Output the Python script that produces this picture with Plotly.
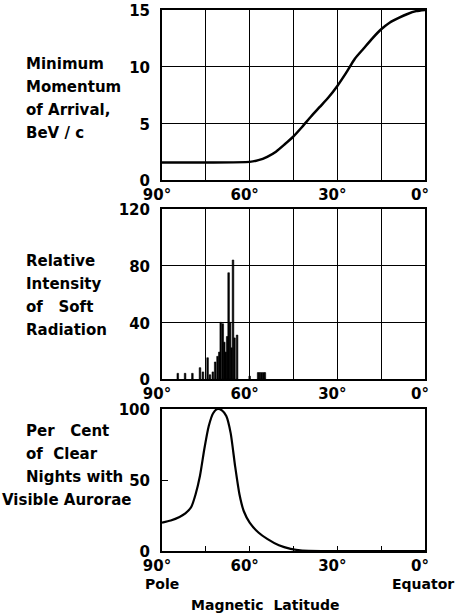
import plotly.graph_objects as go

W, H = 457, 615

# ---- data ----
lat_tick_vals = [90, 75, 60, 45, 30, 15, 0]
lat_tick_text = ["90°", "", "60°", "", "30°", "", "0°"]

lat_mom = [90, 75, 60, 57, 54, 51, 48, 45, 42, 39, 36, 33, 30, 27, 24, 21, 18, 15, 12, 9, 6, 3, 0]
momentum = [1.55, 1.55, 1.6, 1.75, 2.05, 2.5, 3.15, 3.85, 4.7, 5.6, 6.45, 7.3, 8.3, 9.45, 10.7, 11.6, 12.5, 13.3, 13.9, 14.3, 14.65, 14.9, 15.0]
mom_ticks = [0, 5, 10, 15]

lat_soft = [84.6, 82.1, 79.6, 77.0, 76.0, 74.4, 73.6, 72.6, 71.8, 71.0, 70.4, 69.9, 69.2, 68.7, 68.2,
            67.7, 67.2, 66.7, 66.2, 65.7, 65.2, 64.3, 60.0, 57.1, 56.5, 55.9, 55.3, 54.8]
soft = [4, 4, 4, 8, 5, 15, 3, 5, 12, 16, 19, 40, 39, 26, 19,
        30, 75, 40, 22, 84, 29, 31, 2, 4.5, 4.5, 4.5, 4.5, 4.5]
soft_ticks = [0, 40, 80, 120]

lat_aur = [90, 87, 84, 82, 80, 78.5, 77, 75.5, 74, 72.5, 71, 69.5, 68, 66.5, 65, 63.5, 62, 60, 57, 54, 50, 46, 42, 35, 20, 0]
aurorae = [20, 21.5, 24, 26.5, 31, 40, 53, 72, 88, 97, 100, 99, 95, 83, 60, 40, 28, 20, 13, 8.5, 4, 1.5, 0.3, 0, 0, 0]
aur_ticks = [0, 50, 100]

FONT = "DejaVu Sans"

fig = go.Figure()
fig.add_trace(go.Scatter(x=lat_mom, y=momentum, mode="lines",
                         line=dict(color="black", width=2.5, shape="spline", smoothing=0.6),
                         xaxis="x", yaxis="y", showlegend=False))
fig.add_trace(go.Bar(x=lat_soft, y=soft, width=0.55,
                     marker=dict(color="black", line=dict(width=0.6, color="black")),
                     xaxis="x2", yaxis="y2", showlegend=False))
fig.add_trace(go.Scatter(x=lat_aur, y=aurorae, mode="lines",
                         line=dict(color="black", width=2.2, shape="spline", smoothing=0.6),
                         xaxis="x3", yaxis="y3", showlegend=False))

def px_x(p):
    return p / W

def px_y(p):
    return 1 - p / H

xdom = [px_x(162), px_x(425)]
tickfont = dict(family=FONT, size=15, color="black", weight="bold")

def xax(dom_anchor, grid=True):
    return dict(domain=xdom, anchor=dom_anchor, range=[90, 0], tickmode="array",
                tickvals=lat_tick_vals, ticktext=lat_tick_text,
                showgrid=grid, gridcolor="black", gridwidth=1,
                showline=True, mirror=True, linecolor="black", linewidth=2,
                ticks="inside" if not grid else "", ticklen=5, tickcolor="black",
                tickfont=tickfont, zeroline=False, fixedrange=True, automargin=False,
                ticklabelshift=5, ticklabelstandoff=0)

def yax(dom, anchor, rng, ticks, grid=True):
    return dict(domain=dom, anchor=anchor, range=rng, tickmode="array", tickvals=ticks,
                showgrid=grid, gridcolor="black", gridwidth=1,
                showline=True, mirror=True, linecolor="black", linewidth=2,
                ticks="inside" if not grid else "", ticklen=6, tickcolor="black",
                tickfont=tickfont, zeroline=False, fixedrange=True, automargin=False,
                ticklabelstandoff=7, ticklabelshift=1)

fig.update_layout(
    width=W, height=H, margin=dict(l=0, r=0, t=0, b=0),
    paper_bgcolor="white", plot_bgcolor="white",
    bargap=0,
    xaxis=xax("y"),
    yaxis=yax([px_y(180), px_y(10)], "x", [0, 15], mom_ticks),
    xaxis2=xax("y2"),
    yaxis2=yax([px_y(379), px_y(209)], "x2", [0, 120], soft_ticks),
    xaxis3=xax("y3", grid=False),
    yaxis3=yax([px_y(551), px_y(409)], "x3", [0, 100], aur_ticks, grid=False),
)

labfont = dict(family=FONT, size=15, color="black", weight="bold")
axfont = dict(family=FONT, size=14, color="black", weight="bold")
NB = "\u00a0"

def label(text, x, y, anchor="left", font=labfont):
    fig.add_annotation(text=text, x=px_x(x), y=px_y(y), xref="paper", yref="paper",
                       xanchor=anchor, yanchor="middle", showarrow=False, font=font)

top_lines = ["Minimum", "Momentum", "of Arrival,", "BeV" + NB + "/" + NB + "c"]
for i, t in enumerate(top_lines):
    label(t, 24, 64 + 23 * i)

mid_lines = ["Relative", "Intensity", "of" + NB * 3 + "Soft", "Radiation"]
for i, t in enumerate(mid_lines):
    label(t, 24, 261 + 23 * i)

bot_lines = [("Per" + NB * 3 + "Cent", 24), ("of" + NB * 2 + "Clear", 24), ("Nights with", 24), ("Visible Aurorae", 0)]
for i, (t, x) in enumerate(bot_lines):
    label(t, x, 431 + 23 * i)

label("Pole", 143, 584, "left", axfont)
label("Equator", 456, 584, "right", axfont)
label("Magnetic" + NB * 2 + "Latitude", 265, 605, "center", axfont)

fig.write_html("out.html", config={"displayModeBar": False, "staticPlot": True},
               post_script="document.body.style.margin='0';document.body.style.overflow='hidden';")
